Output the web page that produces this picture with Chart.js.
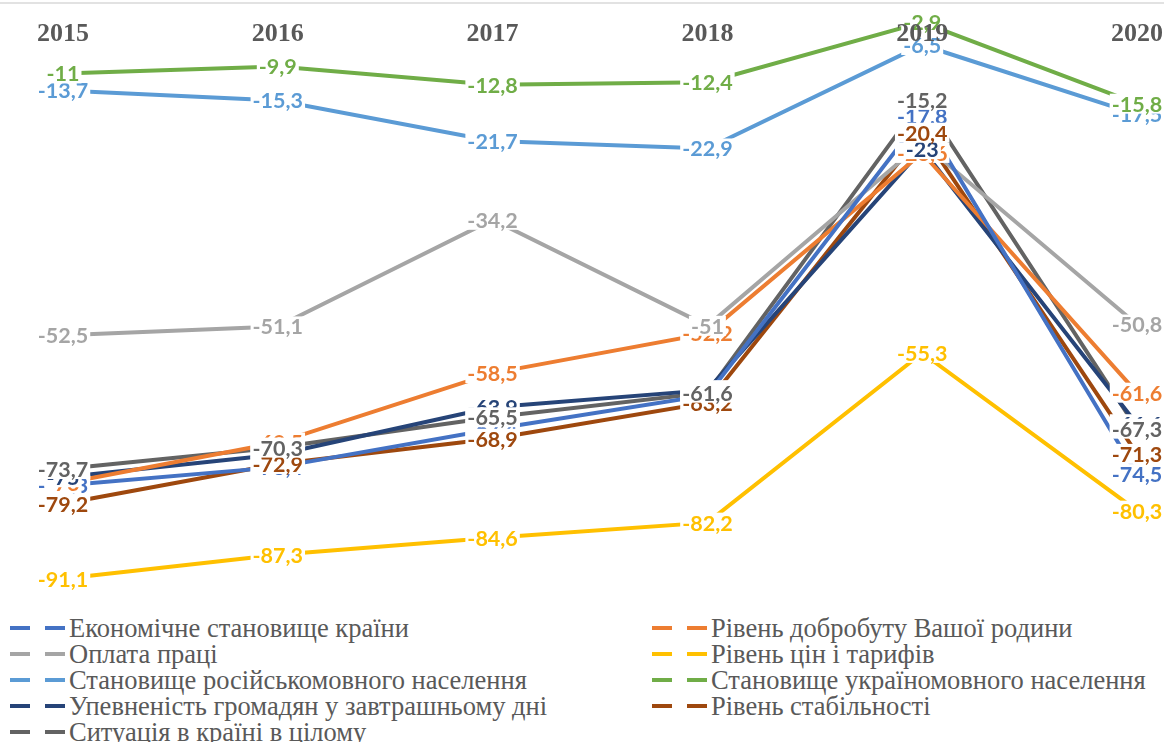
<!DOCTYPE html>
<html>
<head>
<meta charset="utf-8">
<script src="https://cdn.jsdelivr.net/npm/chart.js@4.4.1/dist/chart.umd.min.js"></script>
<style>
  body { margin: 0; background: #fff; overflow: hidden; }
  #wrap { position: relative; width: 1164px; height: 742px; overflow: hidden; }
  #legend {
    position: absolute; left: 10px; top: 615px;
    display: grid; grid-template-columns: 642px 512px;
    font-family: "Liberation Serif", "DejaVu Serif", serif; font-size: 26px; color: #595959;
  }
  .item { height: 26px; line-height: 26px; white-space: nowrap; display: flex; align-items: center; }
  .dash { display: inline-block; width: 20px; height: 4px; margin-right: 15px; flex: none; }
  .dash + .dash { margin-right: 4px; }
</style>
</head>
<body>
<div id="wrap">
  <canvas id="lineChart" width="1164" height="612"></canvas>
  <div id="legend"></div>
</div>
<script>
// years on the top axis
var years = ["2015", "2016", "2017", "2018", "2019", "2020"];

// series names (legend)
var seriesNames = [
  "Економічне становище країни",
  "Рівень добробуту Вашої родини",
  "Оплата праці",
  "Рівень цін і тарифів",
  "Становище російськомовного населення",
  "Становище україномовного населення",
  "Упевненість громадян у завтрашньому дні",
  "Рівень стабільності",
  "Ситуація в країні в цілому"
];

// values per series
var economy   = [-76.3, -73.4, -67.4, -62, -17.8, -74.5];
var welfare   = [-76, -69.5, -58.5, -52.2, -23.6, -61.6];
var wages     = [-52.5, -51.1, -34.2, -51, -22, -50.8];
var prices    = [-91.1, -87.3, -84.6, -82.2, -55.3, -80.3];
var russian   = [-13.7, -15.3, -21.7, -22.9, -6.5, -17.5];
var ukrainian = [-11, -9.9, -12.8, -12.4, -2.9, -15.8];
var confidence = [-75, -71.4, -63.9, -61.2, -23, -66.6];
var stability = [-79.2, -72.9, -68.9, -63.2, -20.4, -71.3];
var situation = [-73.7, -70.3, -65.5, -61.6, -15.2, -67.3];

//colours
var lineColors = ["#4472C4", "#ED7D31", "#A5A5A5", "#FFC000", "#5B9BD5", "#70AD47", "#264478", "#9E480E", "#636363"];

var allData = [economy, welfare, wages, prices, russian, ukrainian, confidence, stability, situation];

var datasets = allData.map(function(d, i) {
  return {
    label: seriesNames[i],
    data: d,
    borderColor: lineColors[i],
    backgroundColor: lineColors[i],
    borderWidth: 4,
    pointRadius: 0,
    tension: 0,
    fill: false
  };
});

// data labels with white box + year labels + top axis line
var labelPlugin = {
  id: 'valueLabels',
  afterDatasetsDraw: function(chart) {
    var ctx = chart.ctx;
    var xs = chart.scales.x, ys = chart.scales.y;
    var zeroY = ys.getPixelForValue(0);
    ctx.save();
    ctx.strokeStyle = '#d9d9d9';
    ctx.lineWidth = 1.5;
    ctx.beginPath();
    ctx.moveTo(0, zeroY - 1);
    ctx.lineTo(chart.width, zeroY - 1);
    ctx.stroke();

    ctx.textAlign = 'center';
    ctx.textBaseline = 'middle';

    ctx.font = 'bold 21.5px Lato';
    chart.data.datasets.forEach(function(ds, di) {
      var meta = chart.getDatasetMeta(di);
      meta.data.forEach(function(pt, i) {
        var txt = String(ds.data[i]).replace('.', ',');
        var w = ctx.measureText(txt).width;
        ctx.fillStyle = '#fff';
        ctx.fillRect(pt.x - w / 2 - 2, pt.y - 10, w + 4, 20);
        ctx.fillStyle = ds.borderColor;
        ctx.fillText(txt, pt.x, pt.y + 1);
      });
    });

    // years drawn last (they sit over the 2019 labels)
    ctx.font = 'bold 26px "Liberation Serif"';
    ctx.fillStyle = '#595959';
    years.forEach(function(yr, i) {
      ctx.fillText(yr, xs.getPixelForValue(i), zeroY + 30);
    });
    ctx.restore();
  }
};

var chart = new Chart("lineChart", {
  type: "line",
  data: { labels: years, datasets: datasets },
  options: {
    responsive: false,
    animation: false,
    layout: { padding: { left: 63, right: 27, top: 4, bottom: 27.5 } },
    plugins: { legend: { display: false }, tooltip: { enabled: false } },
    scales: {
      x: { display: false },
      y: { display: false, min: -92, max: 0 }
    }
  },
  plugins: [labelPlugin]
});

// legend in two columns
var legendEl = document.getElementById('legend');
chart.data.datasets.forEach(function(ds, i) {
  var item = document.createElement('div');
  item.className = 'item';
  item.innerHTML = '<span class="dash" style="background:' + ds.borderColor + '"></span>' +
    '<span class="dash" style="background:' + ds.borderColor + '"></span>' +
    '<span class="txt">' + ds.label + '</span>';
  legendEl.appendChild(item);
});

// fit legend font so the first entry is as wide as in the picture (~340px)
var first = legendEl.querySelector('.txt');
var size = 26 * 340 / first.getBoundingClientRect().width;
legendEl.style.fontSize = size.toFixed(1) + 'px';
</script>
</body>
</html>
